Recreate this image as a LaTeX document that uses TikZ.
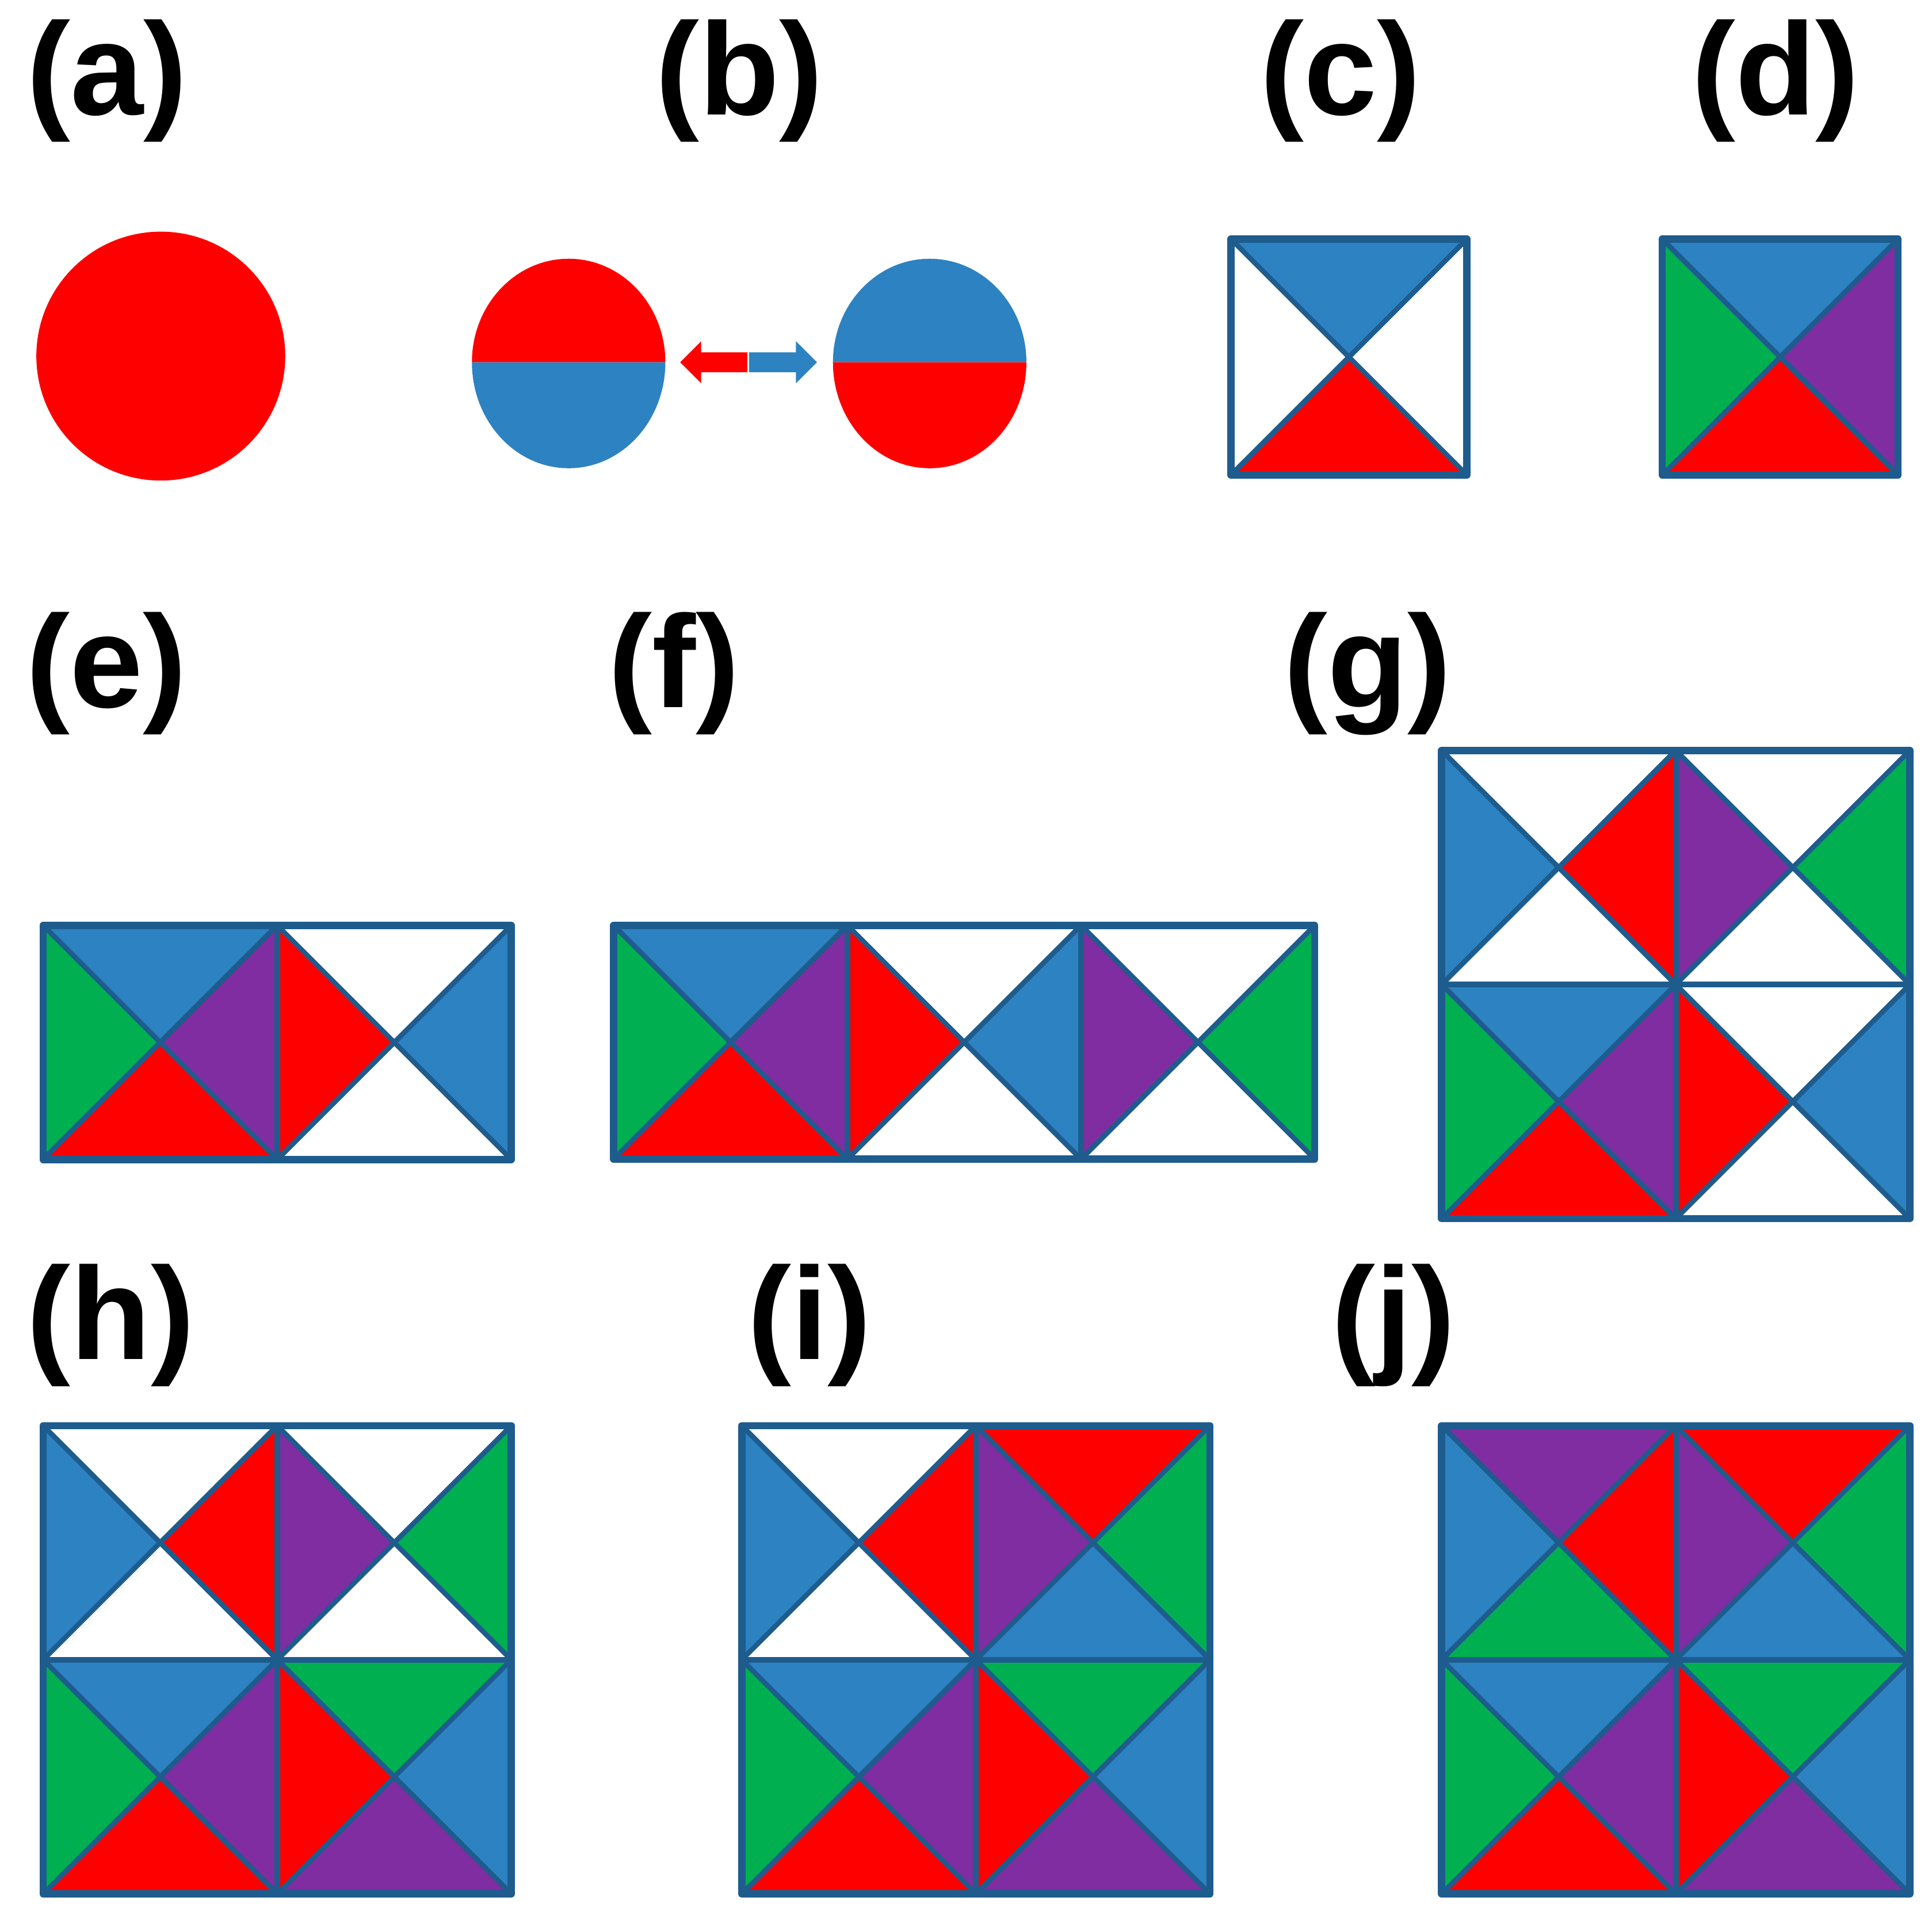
\documentclass[tikz,border=0pt]{standalone}
\usepackage{fontspec}
\setmainfont{Liberation Sans}
\definecolor{cblue}{RGB}{45,130,193}
\definecolor{cgreen}{RGB}{0,176,80}
\definecolor{cpurple}{RGB}{127,45,160}
\definecolor{cred}{RGB}{255,0,0}
\definecolor{cframe}{RGB}{30,92,142}
\newcommand{\tile}[7]{%
 \begin{scope}[shift={(#1,#2)}]
 \fill[#4] (0,0) -- (#3,0) -- (#3/2,#3/2) -- cycle;
 \fill[#5] (0,0) -- (0,#3) -- (#3/2,#3/2) -- cycle;
 \fill[#6] (#3,0) -- (#3,#3) -- (#3/2,#3/2) -- cycle;
 \fill[#7] (0,#3) -- (#3,#3) -- (#3/2,#3/2) -- cycle;
 \draw[diag] (0,0) -- (#3,#3) (#3,0) -- (0,#3);
 \end{scope}}
\begin{document}
\begin{tikzpicture}[x=0.021416cm,y=-0.021416cm,
  diag/.style={draw=cframe,line width=2.5pt},
  frame/.style={draw=cframe,line width=3.6pt,line join=round},
  divider/.style={draw=cframe,line width=2.9pt},
  lab/.style={anchor=base,inner sep=0pt,font=\fontsize{65}{65}\selectfont\bfseries}]
\useasboundingbox (0,0) rectangle (1568,1561.4);
% labels
\node[lab] (la) at (87,93) {(a)};
\node[lab] (lb) at (600,93) {(b)};
\node[lab] (lc) at (1088,93) {(c)};
\node[lab] (ld) at (1441,93) {(d)};
\node[lab] (le) at (86.5,574) {(e)};
\node[lab] (lf) at (547,574) {(f)};
\node[lab] (lg) at (1110,574) {(g)};
\node[lab] (lh) at (90,1103) {(h)};
\node[lab] (li) at (657,1103) {(i)};
\node[lab] (lj) at (1131,1103) {(j)};
% (a)
\fill[cred] (130.5,289) circle[radius=101];
% (b)
\fill[cred] (383,294) arc[start angle=180,end angle=360,x radius=78.5,y radius=84] -- cycle;
\fill[cblue] (383,294) arc[start angle=180,end angle=0,x radius=78.5,y radius=86] -- cycle;
\fill[cblue] (676,294) arc[start angle=180,end angle=360,x radius=78.5,y radius=84] -- cycle;
\fill[cred] (676,294) arc[start angle=180,end angle=0,x radius=78.5,y radius=86] -- cycle;
\fill[cred] (552,294) -- (569,277) -- (569,286) -- (606.5,286) -- (606.5,302) -- (569,302) -- (569,311) -- cycle;
\fill[cblue] (663,294) -- (646,277) -- (646,286) -- (608,286) -- (608,302) -- (646,302) -- (646,311) -- cycle;
% (c)
\tile{999}{194}{191.5}{cblue}{white}{white}{cred}
\draw[frame] (999,194) rectangle (1190.5,385.5);
% (d)
\tile{1349}{194}{191.5}{cblue}{cgreen}{cpurple}{cred}
\draw[frame] (1349,194) rectangle (1540.5,385.5);
% (e)
\tile{35}{751}{190}{cblue}{cgreen}{cpurple}{cred}
\tile{225}{751}{190}{white}{cred}{cblue}{white}
\draw[divider] (225,751) -- (225,941);
\draw[frame] (35,751) rectangle (415,941);
% (f)
\tile{498}{751}{189.7}{cblue}{cgreen}{cpurple}{cred}
\tile{687.7}{751}{189.7}{white}{cred}{cblue}{white}
\tile{877.4}{751}{189.7}{white}{cpurple}{cgreen}{white}
\draw[divider] (687.7,751) -- (687.7,940.7) (877.4,751) -- (877.4,940.7);
\draw[frame] (498,751) rectangle (1067,940.7);
% (g)
\tile{1170}{609}{190}{white}{cblue}{cred}{white}
\tile{1360}{609}{190}{white}{cpurple}{cgreen}{white}
\tile{1170}{799}{190}{cblue}{cgreen}{cpurple}{cred}
\tile{1360}{799}{190}{white}{cred}{cblue}{white}
\draw[divider] (1360,609) -- (1360,989) (1170,799) -- (1550,799);
\draw[frame] (1170,609) rectangle (1550,989);
% (h)
\tile{35}{1157}{190}{white}{cblue}{cred}{white}
\tile{225}{1157}{190}{white}{cpurple}{cgreen}{white}
\tile{35}{1347}{190}{cblue}{cgreen}{cpurple}{cred}
\tile{225}{1347}{190}{cgreen}{cred}{cblue}{cpurple}
\draw[divider] (225,1157) -- (225,1537) (35,1347) -- (415,1347);
\draw[frame] (35,1157) rectangle (415,1537);
% (i)
\tile{602}{1157}{190}{white}{cblue}{cred}{white}
\tile{792}{1157}{190}{cred}{cpurple}{cgreen}{cblue}
\tile{602}{1347}{190}{cblue}{cgreen}{cpurple}{cred}
\tile{792}{1347}{190}{cgreen}{cred}{cblue}{cpurple}
\draw[divider] (792,1157) -- (792,1537) (602,1347) -- (982,1347);
\draw[frame] (602,1157) rectangle (982,1537);
% (j)
\tile{1170}{1157}{190}{cpurple}{cblue}{cred}{cgreen}
\tile{1360}{1157}{190}{cred}{cpurple}{cgreen}{cblue}
\tile{1170}{1347}{190}{cblue}{cgreen}{cpurple}{cred}
\tile{1360}{1347}{190}{cgreen}{cred}{cblue}{cpurple}
\draw[divider] (1360,1157) -- (1360,1537) (1170,1347) -- (1550,1347);
\draw[frame] (1170,1157) rectangle (1550,1537);
\end{tikzpicture}
\end{document}
